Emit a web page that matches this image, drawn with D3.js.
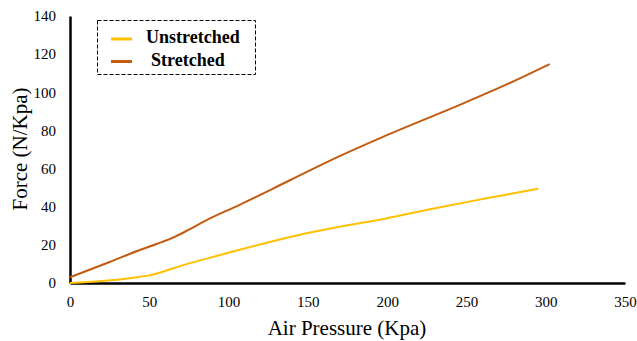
<!DOCTYPE html>
<html>
<head>
<meta charset="utf-8">
<script src="https://cdn.jsdelivr.net/npm/d3@7"></script>
<style>
  body { margin: 0; background: #fff; }
  svg text { font-family: 'Liberation Serif', 'Times New Roman', Times, serif; }
</style>
</head>
<body>
<div id="chart"></div>
<script>
// air pressure (Kpa) / force (N/Kpa)
var stretchedX = [0, 25, 44, 55, 66, 75, 85, 107, 139, 170, 197, 248, 275, 302.5];
var stretchedY = [3, 11, 17.3, 20.6, 24.2, 28, 32.5, 41, 54, 66.5, 76.5, 94.2, 104, 114.8];

var unstretchedX = [0, 20, 40, 50, 60, 70, 85, 105, 145, 170, 200, 227, 260, 295.3];
var unstretchedY = [0, 1, 2.8, 4, 6.3, 9, 12.5, 17, 25.3, 29.5, 34, 38.7, 44, 49.4];

var xTicks = [0, 50, 100, 150, 200, 250, 300, 350];
var yTicks = [0, 20, 40, 60, 80, 100, 120, 140];

var seriesNames = ["Unstretched", "Stretched"];
var seriesColors = ["#FFC000", "#C55A11"];

var width = 637, height = 341;
var serif = "'Liberation Serif', 'Times New Roman', Times, serif";

var svg = d3.select("#chart").append("svg")
    .attr("width", width).attr("height", height);

var x = d3.scaleLinear().domain([0, 350]).range([70, 625]);
var y = d3.scaleLinear().domain([0, 140]).range([283, 16]);

// x axis
var gx = svg.append("g")
    .attr("transform", "translate(0," + y(0) + ")")
    .call(d3.axisBottom(x).tickValues(xTicks).tickSize(0).tickPadding(13))
    .attr("font-family", serif).attr("font-size", 15);
gx.select(".domain").attr("stroke", "#000").attr("stroke-width", 2.5);
gx.selectAll("text").attr("fill", "#000");

// y axis
var gy = svg.append("g")
    .attr("transform", "translate(" + x(0) + ",0)")
    .call(d3.axisLeft(y).tickValues(yTicks).tickSize(0).tickPadding(14))
    .attr("font-family", serif).attr("font-size", 15);
gy.select(".domain").attr("stroke", "#000").attr("stroke-width", 2.5);
gy.selectAll("text").attr("fill", "#000");

// axis titles
svg.append("text")
    .attr("x", 347).attr("y", 335)
    .attr("text-anchor", "middle")
    .attr("font-family", serif)
    .style("font-size", "21px")
    .text("Air Pressure (Kpa)");

svg.append("text")
    .attr("transform", "translate(27,149) rotate(-90)")
    .attr("text-anchor", "middle")
    .attr("font-family", serif)
    .style("font-size", "21px")
    .text("Force (N/Kpa)");

// lines
var line = d3.line()
    .x(function (d) { return x(d[0]); })
    .y(function (d) { return y(d[1]); })
    .curve(d3.curveMonotoneX);

var unstretched = unstretchedX.map(function (v, i) { return [v, unstretchedY[i]]; });
var stretched = stretchedX.map(function (v, i) { return [v, stretchedY[i]]; });

svg.append("path").datum(stretched)
    .attr("fill", "none").attr("stroke", seriesColors[1]).attr("stroke-width", 2)
    .attr("d", line);
svg.append("path").datum(unstretched)
    .attr("fill", "none").attr("stroke", seriesColors[0]).attr("stroke-width", 2)
    .attr("d", line);

// legend
var legend = svg.append("g");
legend.append("rect")
    .attr("x", 97.5).attr("y", 20.5).attr("width", 158).attr("height", 54)
    .attr("fill", "#fff").attr("stroke", "#000").attr("stroke-width", 1)
    .attr("stroke-dasharray", "4,2");

var legendRows = [{ ly: 39, tx: 146, ty: 43 }, { ly: 61.5, tx: 151, ty: 65.5 }];
seriesNames.forEach(function (name, i) {
    legend.append("line")
        .attr("x1", 111).attr("x2", 132)
        .attr("y1", legendRows[i].ly).attr("y2", legendRows[i].ly)
        .attr("stroke", seriesColors[i]).attr("stroke-width", 3);
    legend.append("text")
        .attr("x", legendRows[i].tx).attr("y", legendRows[i].ty)
        .attr("font-family", serif)
        .style("font-size", "18px").style("font-weight", "bold")
        .text(name);
});
</script>
</body>
</html>
